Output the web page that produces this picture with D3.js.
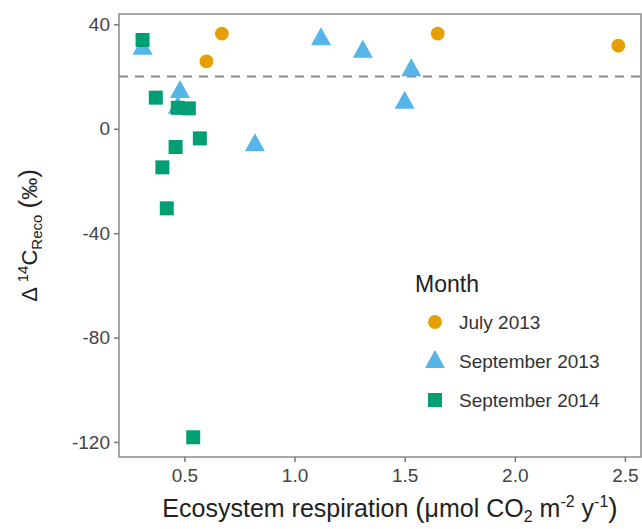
<!DOCTYPE html>
<html lang="en">
  <head>
    <meta charset="utf-8">
    <title>Delta 14C Reco vs ecosystem respiration</title>
    <style>
      body {margin: 0; background: #fff;}
      svg {display: block; font-family: "Liberation Sans", Arial, sans-serif;}
      .axis path {display: none;}
      .axis line {stroke: #777;}
      .axis text {font-size: 19px; fill: #444;}
    </style>
    <script src="https://d3js.org/d3.v7.min.js"></script>
  </head>
  <body>
    <script>
      // data
      var months = ["July 2013", "September 2013", "September 2014"];
      var julyX = [0.60, 0.67, 1.65, 2.47];
      var julyY = [25.8, 36.4, 36.4, 31.8];
      var sep13X = [0.31, 0.48, 0.47, 0.82, 1.12, 1.31, 1.53, 1.50];
      var sep13Y = [31, 14.5, 8.4, -5.9, 34.7, 29.9, 22.8, 10.3];
      var sep14X = [0.31, 0.37, 0.47, 0.52, 0.57, 0.46, 0.40, 0.42, 0.54];
      var sep14Y = [34, 11.9, 8, 7.8, -3.7, -7, -14.8, -30.5, -118.2];
      var refLine = 20;
      var xTicks = [0.5, 1.0, 1.5, 2.0, 2.5];
      var yTicks = [40, 0, -40, -80, -120];

      var colors = ["#E69F00", "#56B4E9", "#009E73"];
      var shapes = ["circle", "triangle", "square"];

      var width = 642, height = 529;
      var margin = {left: 119, right: 1, top: 14, bottom: 72};

      var svg = d3.select("body").append("svg")
        .attr("width", width)
        .attr("height", height);

      var x = d3.scaleLinear().domain([0.203, 2.573])
        .range([margin.left, width - margin.right]);
      var y = d3.scaleLinear().domain([-125.75, 43.95])
        .range([height - margin.bottom, margin.top]);

      // dashed reference line
      svg.append("line")
        .attr("x1", x.range()[0]).attr("x2", x.range()[1])
        .attr("y1", y(refLine)).attr("y2", y(refLine))
        .attr("stroke", "#8a8a8a")
        .attr("stroke-width", 2)
        .attr("stroke-dasharray", "9,7");

      function symbolPath(shape) {
        if (shape == "circle") return d3.symbol(d3.symbolCircle, 150)();
        if (shape == "square") return "M-7,-7H7V7H-7Z";
        return "M0,-11L10,7H-10Z";
      }

      var series = [
        d3.zip(julyX, julyY),
        d3.zip(sep13X, sep13Y),
        d3.zip(sep14X, sep14Y)
      ];

      series.forEach(function(pts, i) {
        svg.append("g").selectAll("path")
          .data(pts)
          .enter()
          .append("path")
          .attr("d", symbolPath(shapes[i]))
          .attr("transform", function(d) {
            return "translate(" + x(d[0]) + "," + y(d[1]) + ")";
          })
          .attr("fill", colors[i]);
      });

      // panel border
      svg.append("rect")
        .attr("x", margin.left)
        .attr("y", margin.top)
        .attr("width", width - margin.left - margin.right)
        .attr("height", height - margin.top - margin.bottom)
        .attr("fill", "none")
        .attr("stroke", "#8a8a8a")
        .attr("stroke-width", 1.5);

      // axes
      svg.append("g")
        .attr("class", "axis")
        .attr("transform", "translate(0," + (height - margin.bottom) + ")")
        .call(d3.axisBottom(x).tickValues(xTicks).tickFormat(d3.format(".1f"))
          .tickSize(5).tickPadding(7));

      svg.append("g")
        .attr("class", "axis")
        .attr("transform", "translate(" + margin.left + ",0)")
        .call(d3.axisLeft(y).tickValues(yTicks)
          .tickFormat(function(d) { return String(d); })
          .tickSize(5).tickPadding(4));

      svg.selectAll(".axis line").attr("stroke-width", 1.5);

      // axis titles
      var xt = svg.append("text")
        .attr("x", 390)
        .attr("y", 517)
        .attr("text-anchor", "middle")
        .attr("font-size", 25)
        .attr("fill", "#222");
      xt.append("tspan").text("Ecosystem respiration ");
      xt.append("tspan").attr("font-size", 28).text("(");
      xt.append("tspan").text("\u03bcmol CO");
      xt.append("tspan").attr("font-size", 16).attr("dy", 5).text("2");
      xt.append("tspan").attr("dy", -5).text(" m");
      xt.append("tspan").attr("font-size", 16).attr("dy", -10).text("-2");
      xt.append("tspan").attr("dy", 10).text(" y");
      xt.append("tspan").attr("font-size", 16).attr("dy", -10).text("-1");
      xt.append("tspan").attr("dy", 10).attr("font-size", 28).text(")");

      var yt = svg.append("text")
        .attr("transform", "translate(37," + ((margin.top + height - margin.bottom) / 2) + ") rotate(-90)")
        .attr("text-anchor", "middle")
        .attr("font-size", 22)
        .attr("fill", "#222");
      yt.append("tspan").text("\u0394 ");
      yt.append("tspan").attr("font-size", 15).attr("dy", -9).text("14");
      yt.append("tspan").attr("dy", 9).text("C");
      yt.append("tspan").attr("font-size", 15).attr("dy", 5).text("Reco");
      yt.append("tspan").attr("dy", -5).text(" ");
      yt.append("tspan").attr("font-size", 26).text("(");
      yt.append("tspan").text("\u2030");
      yt.append("tspan").attr("font-size", 26).text(")");

      // legend
      var legend = svg.append("g");
      legend.append("text")
        .attr("x", 415).attr("y", 292)
        .attr("font-size", 23)
        .attr("fill", "#222")
        .text("Month");

      var item = legend.selectAll("g.item")
        .data(months)
        .enter()
        .append("g")
        .attr("class", "item")
        .attr("transform", function(d, i) {
          return "translate(435," + (322 + i * 39) + ")";
        });
      item.append("path")
        .attr("d", function(d, i) { return symbolPath(shapes[i]); })
        .attr("fill", function(d, i) { return colors[i]; });
      item.append("text")
        .attr("x", 24)
        .attr("y", 7)
        .attr("font-size", 19)
        .attr("fill", "#333")
        .text(function(d) { return d; });
    </script>
  </body>
</html>
